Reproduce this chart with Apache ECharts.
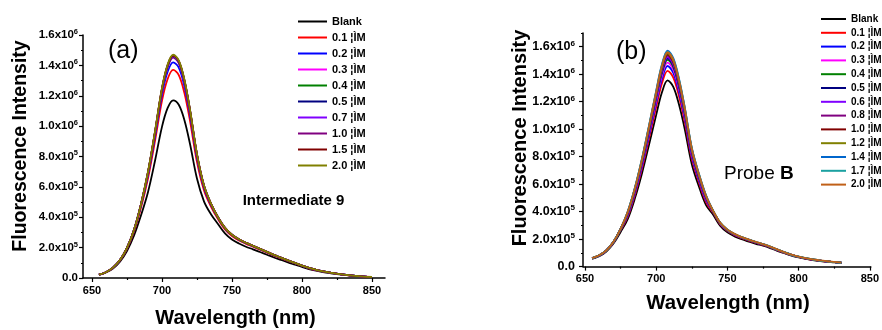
<!DOCTYPE html>
<html><head><meta charset="utf-8">
<script src="https://cdn.jsdelivr.net/npm/echarts@6/dist/echarts.min.js"></script>
<style>html,body{margin:0;padding:0;background:#fff}#c{width:882px;height:330px}</style>
</head><body><div id="c"></div>
<script>
// ---------- data (intensity in units of 10^6) ----------
const wavelengthA = [655,660,665,670,675,680,685,690,695,700,704,708,712,716,720,725,730,735,740,745,750,755,760,765,770,775,780,785,790,795,800,805,810,815,820,830,840,850];
const namesA = ['Blank','0.1 ¦ÌM','0.2 ¦ÌM','0.3 ¦ÌM','0.4 ¦ÌM','0.5 ¦ÌM','0.7 ¦ÌM','1.0 ¦ÌM','1.5 ¦ÌM','2.0 ¦ÌM'];
const colorsA = ['#000000','#ff0000','#0000ff','#ff00ff','#008000','#000080','#8000ff','#800080','#800000','#808000'];
const a_blank = [.021,.036,.063,.108,.178,.278,.412,.565,.770,.995,1.118,1.170,1.141,1.041,.884,.655,.505,.420,.356,.294,.254,.227,.206,.189,.171,.153,.135,.119,.103,.088,.073,.059,.048,.039,.032,.020,.012,.006];
const a_01 = [.022,.038,.066,.115,.192,.304,.462,.655,.901,1.166,1.309,1.370,1.336,1.219,1.036,.765,.578,.470,.388,.320,.276,.247,.225,.206,.186,.167,.147,.130,.113,.096,.080,.064,.052,.043,.035,.021,.012,.007];
const a_02 = [.022,.038,.067,.117,.196,.312,.477,.676,.931,1.208,1.357,1.420,1.385,1.264,1.074,.792,.595,.481,.396,.327,.282,.252,.230,.210,.190,.170,.150,.133,.115,.098,.081,.065,.053,.044,.036,.022,.013,.007];
const a_03 = [.022,.038,.068,.118,.198,.316,.484,.689,.950,1.233,1.385,1.450,1.414,1.290,1.095,.806,.604,.486,.399,.329,.284,.254,.231,.211,.191,.171,.151,.133,.115,.098,.082,.066,.054,.044,.036,.022,.013,.007];
const a_04 = [.022,.038,.068,.118,.198,.316,.484,.691,.953,1.237,1.390,1.455,1.418,1.295,1.099,.809,.606,.487,.399,.329,.284,.254,.231,.211,.191,.171,.151,.133,.115,.098,.082,.066,.054,.044,.036,.022,.013,.007];
const a_05 = [.022,.038,.068,.118,.198,.316,.485,.694,.957,1.242,1.395,1.460,1.424,1.298,1.103,.812,.607,.488,.400,.330,.285,.255,.232,.212,.192,.172,.152,.134,.116,.099,.082,.066,.054,.044,.036,.022,.013,.007];
const a_07 = [.022,.038,.068,.118,.198,.316,.485,.693,.956,1.241,1.394,1.460,1.423,1.299,1.102,.811,.607,.488,.400,.330,.285,.255,.232,.212,.192,.172,.152,.134,.116,.099,.082,.066,.054,.044,.036,.022,.013,.007];
const a_10 = [.022,.038,.068,.118,.198,.316,.485,.695,.959,1.245,1.400,1.465,1.428,1.303,1.107,.814,.609,.489,.400,.330,.285,.255,.232,.212,.192,.172,.152,.134,.116,.099,.082,.066,.054,.044,.036,.022,.013,.007];
const a_15 = [.022,.038,.068,.118,.198,.316,.485,.696,.960,1.246,1.399,1.465,1.428,1.304,1.106,.813,.608,.489,.400,.330,.285,.255,.232,.212,.192,.172,.152,.134,.116,.099,.082,.066,.054,.044,.036,.022,.013,.007];
const a_20 = [.022,.038,.068,.118,.198,.316,.485,.698,.963,1.250,1.404,1.470,1.433,1.308,1.110,.816,.610,.490,.400,.330,.285,.255,.232,.212,.192,.172,.152,.134,.116,.099,.082,.066,.054,.044,.036,.022,.013,.007];
const seriesA = [a_blank,a_01,a_02,a_03,a_04,a_05,a_07,a_10,a_15,a_20];

const wavelengthB = [655,660,665,670,675,680,685,690,695,700,704,708,712,716,720,725,730,735,740,745,750,755,760,765,770,775,780,785,790,795,800,805,810,815,820,825,830];
const namesB = ['Blank','0.1 ¦ÌM','0.2 ¦ÌM','0.3 ¦ÌM','0.4 ¦ÌM','0.5 ¦ÌM','0.6 ¦ÌM','0.8 ¦ÌM','1.0 ¦ÌM','1.2 ¦ÌM','1.4 ¦ÌM','1.7 ¦ÌM','2.0 ¦ÌM'];
const colorsB = ['#000000','#ff0000','#0000ff','#ff00ff','#008000','#000080','#8000ff','#800080','#800000','#808000','#0066cc','#1ba1a1','#c06018'];
const b_blank = [.057,.076,.110,.168,.252,.346,.495,.678,.888,1.104,1.267,1.355,1.308,1.179,1.003,.745,.583,.447,.377,.296,.249,.220,.199,.182,.166,.152,.135,.115,.097,.080,.067,.057,.048,.041,.035,.031,.026];
const b_01 = [.059,.079,.114,.175,.265,.363,.520,.713,.933,1.161,1.332,1.425,1.375,1.240,1.055,.784,.613,.470,.391,.307,.259,.229,.207,.189,.173,.157,.140,.120,.100,.083,.069,.059,.050,.042,.037,.032,.027];
const b_02 = [.060,.080,.116,.177,.270,.372,.533,.730,.956,1.190,1.365,1.460,1.409,1.270,1.080,.803,.628,.482,.397,.312,.263,.232,.210,.192,.175,.160,.142,.122,.102,.084,.071,.060,.051,.043,.037,.032,.027];
const b_03 = [.060,.081,.116,.178,.271,.379,.542,.743,.973,1.210,1.388,1.485,1.433,1.292,1.099,.817,.639,.490,.399,.313,.264,.233,.211,.193,.176,.161,.143,.122,.102,.085,.071,.060,.051,.043,.037,.033,.028];
const b_04 = [.060,.081,.117,.179,.272,.384,.549,.753,.986,1.227,1.407,1.505,1.452,1.309,1.114,.828,.647,.497,.401,.315,.265,.235,.212,.194,.177,.161,.144,.123,.103,.085,.071,.060,.051,.044,.038,.033,.028];
const b_05 = [.060,.081,.117,.179,.272,.386,.553,.758,.992,1.235,1.417,1.515,1.462,1.318,1.121,.833,.651,.500,.401,.315,.265,.235,.212,.194,.177,.161,.144,.123,.103,.085,.071,.060,.051,.044,.038,.033,.028];
const b_06 = [.061,.081,.117,.180,.273,.389,.557,.763,.999,1.243,1.426,1.525,1.472,1.327,1.129,.839,.656,.503,.401,.315,.265,.235,.212,.194,.177,.161,.144,.123,.103,.085,.071,.060,.051,.044,.038,.033,.028];
const b_08 = [.061,.082,.117,.180,.274,.391,.560,.768,1.005,1.251,1.435,1.535,1.481,1.335,1.136,.844,.660,.507,.401,.315,.265,.235,.212,.194,.177,.161,.144,.123,.103,.085,.071,.060,.051,.044,.038,.033,.028];
const b_10 = [.061,.082,.118,.180,.274,.394,.564,.773,1.012,1.259,1.445,1.545,1.491,1.344,1.143,.850,.664,.510,.401,.315,.265,.235,.212,.194,.177,.161,.144,.123,.103,.085,.071,.060,.051,.044,.038,.033,.028];
const b_12 = [.061,.082,.118,.181,.275,.396,.566,.776,1.017,1.265,1.451,1.552,1.498,1.350,1.148,.854,.667,.512,.405,.318,.268,.237,.214,.196,.179,.163,.145,.124,.104,.086,.072,.061,.052,.044,.038,.033,.028];
const b_14 = [.061,.082,.118,.181,.275,.401,.574,.786,1.030,1.281,1.470,1.572,1.517,1.368,1.163,.865,.676,.519,.405,.318,.268,.237,.214,.196,.179,.163,.145,.124,.104,.086,.072,.061,.052,.044,.038,.033,.028];
const b_17 = [.061,.082,.118,.181,.275,.399,.571,.783,1.025,1.275,1.463,1.565,1.510,1.362,1.158,.861,.673,.516,.405,.318,.268,.237,.214,.196,.179,.163,.145,.124,.104,.086,.072,.061,.052,.044,.038,.033,.028];
const b_20 = [.061,.082,.118,.181,.275,.398,.569,.780,1.022,1.271,1.459,1.560,1.505,1.357,1.154,.858,.671,.515,.406,.319,.269,.238,.215,.197,.180,.164,.146,.125,.105,.087,.073,.062,.053,.045,.039,.034,.029];
const seriesB = [b_blank,b_01,b_02,b_03,b_04,b_05,b_06,b_08,b_10,b_12,b_14,b_17,b_20];

const yTicks = [0,0.2,0.4,0.6,0.8,1.0,1.2,1.4,1.6];
const yTickLabels = ['0.0','2.0x10^5','4.0x10^5','6.0x10^5','8.0x10^5','1.0x10^6','1.2x10^6','1.4x10^6','1.6x10^6'];
const yMinorA = [0.1,0.3,0.5,0.7,0.9,1.1,1.3,1.5];
const yMinorB = [0.1,0.3,0.5,0.7,0.9,1.1,1.3,1.5,1.7];
const xTicks = [650,700,750,800,850];
const xTickLabels = ['650','700','750','800','850'];
const xMinor = [675,725,775,825];

// ---------- chart ----------
const FONT = '"Liberation Sans", Arial, sans-serif';
const chart = echarts.init(document.getElementById('c'), null, {renderer:'canvas'});

function yFmt(v){
  const i = yTicks.findIndex(t => Math.abs(t - v) < 1e-6);
  if (i < 0) return '';
  const p = yTickLabels[i].split('^');
  return p.length > 1 ? '{m|' + p[0] + '}{e|' + p[1] + '}' : '{m|' + p[0] + '}';
}
function xFmt(v){
  const i = xTicks.findIndex(t => Math.abs(t - v) < 1e-6);
  return i < 0 ? '' : xTickLabels[i];
}
const richY = (s) => ({
  m:{fontSize:s, fontWeight:'bold', fontFamily:FONT, color:'#000'},
  e:{fontSize:s*0.65, fontWeight:'bold', fontFamily:FONT, color:'#000', padding:[0,0,s*0.55,0]}
});
const axisLineStyle = {color:'#000', width:1.5};

function mainX(grid, min, max){
  return {type:'value', gridIndex:grid, min:min, max:max, position:'bottom',
    axisLine:{show:true, onZero:false, lineStyle:axisLineStyle},
    axisTick:{show:true, customValues:xTicks, length:4, lineStyle:{color:'#000', width:1.2}},
    axisLabel:{customValues:xTicks, formatter:xFmt, fontSize:11, fontWeight:'bold', fontFamily:FONT, color:'#000', margin:7},
    splitLine:{show:false}};
}
function minorX(grid, min, max){
  return {type:'value', gridIndex:grid, min:min, max:max, position:'bottom',
    axisLine:{show:false, onZero:false},
    axisTick:{show:true, customValues:xMinor, length:2, lineStyle:{color:'#000', width:1.2}},
    axisLabel:{show:false}, splitLine:{show:false}};
}
function mainY(grid, max, size, margin){
  return {type:'value', gridIndex:grid, min:0, max:max, position:'left',
    axisLine:{show:true, onZero:false, lineStyle:axisLineStyle},
    axisTick:{show:true, customValues:yTicks, length:4, lineStyle:{color:'#000', width:1.2}},
    axisLabel:{customValues:yTicks, formatter:yFmt, rich:richY(size), margin:margin},
    splitLine:{show:false}};
}
function minorY(grid, max, minors){
  return {type:'value', gridIndex:grid, min:0, max:max, position:'left',
    axisLine:{show:false, onZero:false},
    axisTick:{show:true, customValues:minors, length:2, lineStyle:{color:'#000', width:1.2}},
    axisLabel:{show:false}, splitLine:{show:false}};
}

const series = [];
seriesA.forEach((vals, i) => {
  series.push({type:'line', name:'a#' + namesA[i], xAxisIndex:0, yAxisIndex:0,
    data: wavelengthA.map((w, k) => [w, vals[k]]),
    symbol:'none', smooth:0.35, color:colorsA[i],
    lineStyle:{width:1.8, color:colorsA[i]}});
});
seriesB.forEach((vals, i) => {
  series.push({type:'line', name:'b#' + namesB[i], xAxisIndex:2, yAxisIndex:2,
    data: wavelengthB.map((w, k) => [w, vals[k]]),
    symbol:'none', smooth:0.35, color:colorsB[i],
    lineStyle:{width:1.8, color:colorsB[i]}});
});

const legendText = (size, lh) => ({fontSize:size, fontWeight:'bold', fontFamily:FONT, color:'#000', lineHeight:lh});

chart.setOption({
  animation:false,
  backgroundColor:'#fff',
  textStyle:{fontFamily:FONT},
  grid:[
    {left:83, top:35, width:302, height:243},
    {left:583, top:33, width:290, height:233.6}
  ],
  xAxis:[mainX(0, 643.6, 859.3), minorX(0, 643.6, 859.3), mainX(1, 648.6, 850.7), minorX(1, 648.6, 850.7)],
  yAxis:[mainY(0, 1.6, 11.5, 5), minorY(0, 1.6, yMinorA), mainY(1, 1.7, 12.5, 8), minorY(1, 1.7, yMinorB)],
  legend:[
    {data:namesA.map(n => 'a#' + n), orient:'vertical', left:293, top:10, itemWidth:29, itemHeight:2, icon:'rect',
      itemGap:3, selectedMode:false, formatter:n => n.split('#')[1], textStyle:legendText(11, 13)},
    {data:namesB.map(n => 'b#' + n), orient:'vertical', left:816, top:8, itemWidth:25, itemHeight:2, icon:'rect',
      itemGap:1.8, selectedMode:false, formatter:n => n.split('#')[1], textStyle:legendText(10, 12)}
  ],
  graphic:[
    {type:'text', x:20.5, y:146, rotation:Math.PI/2, style:{text:'Fluorescence Intensity', fontSize:19.5, fontWeight:'bold', fontFamily:FONT, fill:'#000', align:'center', verticalAlign:'middle'}},
    {type:'text', x:235.5, y:318, style:{text:'Wavelength (nm)', fontSize:20, fontWeight:'bold', fontFamily:FONT, fill:'#000', align:'center', verticalAlign:'middle'}},
    {type:'text', x:520.5, y:138, rotation:Math.PI/2, style:{text:'Fluorescence Intensity', fontSize:20, fontWeight:'bold', fontFamily:FONT, fill:'#000', align:'center', verticalAlign:'middle'}},
    {type:'text', x:728, y:303, style:{text:'Wavelength (nm)', fontSize:20.4, fontWeight:'bold', fontFamily:FONT, fill:'#000', align:'center', verticalAlign:'middle'}},
    {type:'text', x:108, y:51.5, style:{text:'(a)', fontSize:25, fontFamily:FONT, fill:'#000', align:'left', verticalAlign:'middle'}},
    {type:'text', x:616, y:52.5, style:{text:'(b)', fontSize:25, fontFamily:FONT, fill:'#000', align:'left', verticalAlign:'middle'}},
    {type:'text', x:242.7, y:201, style:{text:'Intermediate 9', fontSize:15, fontWeight:'bold', fontFamily:FONT, fill:'#000', align:'left', verticalAlign:'middle'}},
    {type:'text', x:724, y:174, style:{text:'{n|Probe }{b|B}', rich:{n:{fontSize:19, fontFamily:FONT, fill:'#000'}, b:{fontSize:19, fontWeight:'bold', fontFamily:FONT, fill:'#000'}}, align:'left', verticalAlign:'middle'}}
  ],
  series:series
});
</script>
</body></html>
